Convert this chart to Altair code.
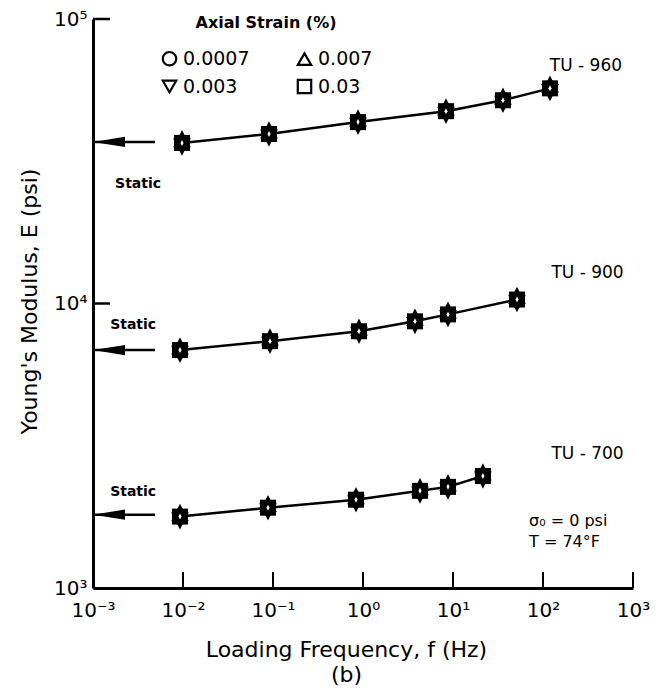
import altair as alt
import pandas as pd

FONT = "DejaVu Sans"

# ---------------- data ----------------
materials = ["TU - 960", "TU - 900", "TU - 700"]
freq_tu960 = [0.00975, 0.0903, 0.880, 8.36, 35.9, 119.6]
E_tu960 = [36680, 39430, 43410, 47430, 51810, 57050]
freq_tu900 = [0.00926, 0.0926, 0.903, 3.78, 8.80, 51.4]
E_tu900 = [6859, 7372, 7988, 8656, 9156, 10325]
freq_tu700 = [0.00926, 0.0880, 0.836, 4.30, 8.80, 21.5]
E_tu700 = [1782, 1915, 2043, 2195, 2267, 2476]

static_E = [36980, 6859, 1810]
static_axis_freq = 0.001
static_tail_freq = 0.00489

strains = ["0.0007", "0.007", "0.003", "0.03"]
legend_shapes = ["circle", "triangle-up", "triangle-down", "square"]
marker_shapes = ["circle", "M0,-1.6L1.1,0.55L-1.1,0.55Z",
                 "M0,1.6L1.1,-0.55L-1.1,-0.55Z", "square"]

x_tick_values = [1e-3, 1e-2, 1e-1, 1, 10, 100, 1000]
x_tick_labels = ["10⁻³", "10⁻²", "10⁻¹", "10⁰", "10¹", "10²", "10³"]
y_tick_values = [1e3, 1e4, 1e5]
y_tick_labels = ["10³", "10⁴", "10⁵"]
x_inner_ticks = [1e-2, 1e-1, 1, 10, 100, 1000]
y_inner_ticks = [1e4, 1e5]

label_freq = [119, 124, 124]
label_E = [68500, 12800, 2950]
static_text = ["Static", "Static", "Static"]
static_text_freq = [0.00176, 0.00155, 0.00155]
static_text_E = [26400, 8380, 2180]
cond_text = ["σ₀ = 0 psi", "T = 74°F"]
cond_freq = [70, 70]
cond_E = [1720, 1455]

# ---------------- tables ----------------
series = [(materials[0], freq_tu960, E_tu960),
          (materials[1], freq_tu900, E_tu900),
          (materials[2], freq_tu700, E_tu700)]
rows = []
for mat, fs, es in series:
    for f, e in zip(fs, es):
        for s in strains:
            rows.append({"material": mat, "freq": f, "E": e, "strain": s})
pts = pd.DataFrame(rows)
line_df = pts[pts["strain"] == strains[0]]
circ_df = line_df

static_df = pd.DataFrame({"material": materials, "E": static_E,
                          "freq": [static_axis_freq] * 3,
                          "freq2": [static_tail_freq] * 3})
xt_df = pd.DataFrame({"freq": x_inner_ticks})
yt_df = pd.DataFrame({"E": y_inner_ticks})
lab_df = pd.DataFrame({"freq": label_freq, "E": label_E, "text": materials})
st_df = pd.DataFrame({"freq": static_text_freq, "E": static_text_E, "text": static_text})
cd_df = pd.DataFrame({"freq": cond_freq, "E": cond_E, "text": cond_text})

xscale = alt.Scale(type="log", domain=[1e-3, 1e3], nice=False)
yscale = alt.Scale(type="log", domain=[1e3, 1e5], nice=False)

x_expr = "[" + ",".join("'%s'" % t for t in x_tick_labels) + "][round(log(datum.value)/LN10)+3]"
y_expr = "[" + ",".join("'%s'" % t for t in y_tick_labels) + "][round(log(datum.value)/LN10)-3]"

x_axis = alt.Axis(values=x_tick_values, labelExpr=x_expr, ticks=False, grid=False,
                  domainColor="black", domainWidth=3, labelColor="black",
                  labelFont=FONT, labelFontSize=20, labelPadding=12,
                  labelFlush=False, labelOverlap=False,
                  title=["Loading Frequency, f (Hz)", "(b)"], titleFont=FONT,
                  titleFontSize=22, titleFontWeight="normal", titleColor="black",
                  titleX=253, titleY=68, titleBaseline="alphabetic",
                  titleAlign="center", titleLineHeight=25)
y_axis = alt.Axis(values=y_tick_values, labelExpr=y_expr, ticks=False, grid=False,
                  domainColor="black", domainWidth=3, labelColor="black",
                  labelFont=FONT, labelFontSize=20, labelPadding=6,
                  labelBaseline="middle", labelFlush=False, labelOverlap=False,
                  title="Young's Modulus, E (psi)", titleFont=FONT,
                  titleFontSize=22, titleFontWeight="normal", titleColor="black",
                  titleX=-57, titleY=282, titleAngle=270,
                  titleBaseline="alphabetic", titleAlign="center")

X = alt.X("freq:Q", scale=xscale, axis=x_axis)
Y = alt.Y("E:Q", scale=yscale, axis=y_axis)

lines = alt.Chart(line_df).mark_line(color="black", strokeWidth=2.5).encode(
    x=X, y=Y, detail="material:N")

xticks = alt.Chart(xt_df).mark_rule(color="black", strokeWidth=2).encode(
    x=X, y=alt.value(569), y2=alt.value(553))
yticks = alt.Chart(yt_df).mark_rule(color="black", strokeWidth=2.5).encode(
    y=Y, x=alt.value(0), x2=alt.value(17))

shafts = alt.Chart(static_df).mark_rule(color="black", strokeWidth=2.5).encode(
    x=X, x2="freq2:Q", y=Y)
heads = alt.Chart(static_df).mark_point(
    shape="M0,0L2,-0.32L2,0.32Z", size=1024, filled=True, color="black",
    opacity=1).encode(x=X, y=Y)

legend_pts = alt.Chart(pts).mark_point(
    filled=False, color="black", strokeWidth=2, size=100, opacity=1).encode(
    x=X, y=Y,
    shape=alt.Shape("strain:N", scale=alt.Scale(domain=strains, range=legend_shapes),
                    legend=alt.Legend(title="Axial Strain (%)", orient="none",
                                      values=strains, direction="horizontal",
                                      legendX=67, legendY=-4, columns=2,
                                      columnPadding=43, rowPadding=5, padding=0,
                                      symbolSize=180, symbolStrokeWidth=2.2,
                                      symbolStrokeColor="black",
                                      labelFont=FONT, labelFontSize=19,
                                      labelColor="black", labelOffset=4,
                                      titleFont=FONT, titleFontSize=16,
                                      titleFontWeight="bold", titleColor="black",
                                      titleAnchor="middle", titlePadding=18)))
filled_pts = alt.Chart(pts).mark_point(
    filled=True, color="black", size=256, opacity=1).encode(
    x=X, y=Y,
    shape=alt.Shape("strain:N", scale=alt.Scale(domain=strains, range=marker_shapes),
                    legend=None))
centers = alt.Chart(circ_df).mark_point(
    shape="M0,-1L0.5,0L0,1L-0.5,0Z", size=36, filled=True, color="white",
    opacity=1).encode(x=X, y=Y)

labels = alt.Chart(lab_df).mark_text(
    font=FONT, fontSize=17, align="left", baseline="middle", color="black").encode(
    x=X, y=Y, text="text:N")
statics = alt.Chart(st_df).mark_text(
    font=FONT, fontSize=14, fontWeight="bold", align="left", baseline="middle",
    color="black").encode(x=X, y=Y, text="text:N")
conds = alt.Chart(cd_df).mark_text(
    font=FONT, fontSize=16, align="left", baseline="middle", color="black").encode(
    x=X, y=Y, text="text:N")

chart = alt.layer(
    lines, xticks, yticks, shafts, heads, legend_pts, filled_pts, centers,
    labels, statics, conds
).resolve_scale(shape="independent").properties(
    width=540, height=569,
    autosize=alt.AutoSizeParams(type="none"),
    padding={"left": 85, "top": 11, "right": 22, "bottom": 101},
    background="white",
).configure_view(stroke=None)

chart.save("out.html", embed_options={"renderer": "svg", "actions": False})
